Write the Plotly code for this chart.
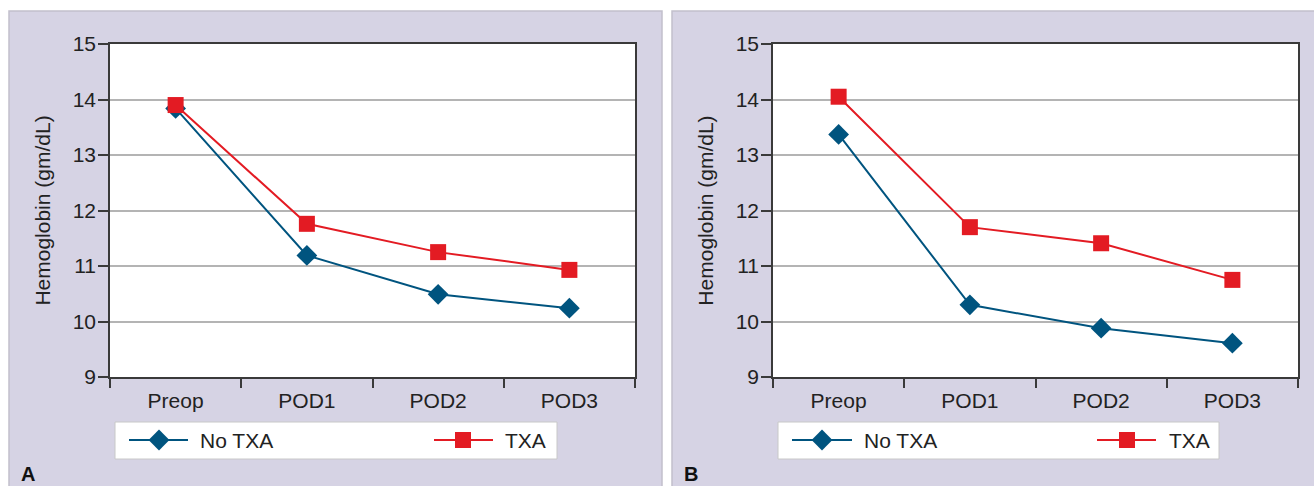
import plotly.graph_objects as go

# ---- data ----
categories = ["Preop", "POD1", "POD2", "POD3"]
a_no_txa = [13.84, 11.19, 10.49, 10.24]
a_txa = [13.90, 11.76, 11.25, 10.93]
b_no_txa = [13.37, 10.30, 9.88, 9.61]
b_txa = [14.05, 11.70, 11.41, 10.75]
y_tick_values = [9, 10, 11, 12, 13, 14, 15]
series_names = ["No TXA", "TXA"]
panel_labels = ["A", "B"]
y_title = "Hemoglobin (gm/dL)"

# ---- style ----
W, H = 1314, 486
BLUE = "#00547f"
RED = "#e31b23"
LAV = "#d6d3e4"
AXIS = "#3a3a3a"
GRID = "#b4b4b4"
TXT = "#222222"
FONT = "Liberation Sans, Arial, sans-serif"


def px(x):
    return x / W


def py(y):
    return 1 - y / H


fig = go.Figure()

panels = [
    dict(x0=110, x1=635, data=(a_no_txa, a_txa), xa="x", ya="y",
         box=(9, 662), leg=(115, 557), g1=(129, 188, 159, 198), g2=(434, 493, 463, 503), lab=28),
    dict(x0=773, x1=1298, data=(b_no_txa, b_txa), xa="x2", ya="y2",
         box=(672, 1316), leg=(778, 1219), g1=(792, 852, 822, 862), g2=(1097, 1156, 1127, 1167), lab=691),
]
PY0, PY1 = 44, 377
LEGY0, LEGY1, LEGY = 422, 459, 440

shapes = []
annotations = []
for i, p in enumerate(panels):
    no_txa, txa = p["data"]
    fig.add_trace(go.Scatter(x=categories, y=no_txa, name=series_names[0], mode="lines+markers",
                             line=dict(color=BLUE, width=2),
                             marker=dict(symbol="diamond", size=16, color=BLUE),
                             xaxis=p["xa"], yaxis=p["ya"], showlegend=False))
    fig.add_trace(go.Scatter(x=categories, y=txa, name=series_names[1], mode="lines+markers",
                             line=dict(color=RED, width=2),
                             marker=dict(symbol="square", size=16, color=RED),
                             xaxis=p["xa"], yaxis=p["ya"], showlegend=False))
    # panel background
    shapes.append(dict(type="rect", xref="paper", yref="paper", layer="below",
                       x0=px(p["box"][0]), x1=px(p["box"][1]), y0=-0.02, y1=py(11),
                       fillcolor=LAV, line=dict(color="#c2c0cc", width=1.5)))
    shapes.append(dict(type="rect", xref="paper", yref="paper", layer="below",
                       x0=px(p["x0"]), x1=px(p["x1"]), y0=py(PY1), y1=py(PY0),
                       fillcolor="white", line=dict(width=0)))
    # legend box
    shapes.append(dict(type="rect", xref="paper", yref="paper", layer="below",
                       x0=px(p["leg"][0]), x1=px(p["leg"][1]), y0=py(LEGY1), y1=py(LEGY0),
                       fillcolor="white", line=dict(color="#c8c8c8", width=1)))
    # legend glyphs
    for g, col, sym, nm in [(p["g1"], BLUE, "diamond", series_names[0]),
                            (p["g2"], RED, "square", series_names[1])]:
        fig.add_trace(go.Scatter(x=[g[0], g[1]], y=[LEGY, LEGY], mode="lines",
                                 line=dict(color=col, width=2), xaxis="x3", yaxis="y3",
                                 showlegend=False, hoverinfo="skip"))
        fig.add_trace(go.Scatter(x=[g[2]], y=[LEGY], mode="markers",
                                 marker=dict(symbol=sym, size=16, color=col), xaxis="x3", yaxis="y3",
                                 showlegend=False, hoverinfo="skip"))
        annotations.append(dict(x=g[3], y=LEGY, xref="x3", yref="y3", text=nm, showarrow=False,
                                xanchor="left", yanchor="middle", font=dict(size=21, color=TXT, family=FONT)))
    annotations.append(dict(x=p["lab"], y=474, xref="x3", yref="y3", text="<b>%s</b>" % panel_labels[i],
                            showarrow=False, xanchor="center", yanchor="middle",
                            font=dict(size=20, color="#111111", family=FONT)))

xaxis_common = dict(type="category", range=[-0.5, 3.5], tickson="boundaries", ticks="outside",
                    ticklen=9, tickwidth=1.5, tickcolor=AXIS, showline=True, linecolor=AXIS,
                    linewidth=1.5, mirror=True, showgrid=False, zeroline=False, automargin=False,
                    ticklabelstandoff=4,
                    tickfont=dict(size=21, color=TXT, family=FONT), fixedrange=True)
yaxis_common = dict(range=[9, 15], tickvals=y_tick_values, ticks="outside", ticklen=10, tickwidth=1.5,
                    tickcolor=AXIS, showline=True, linecolor=AXIS, linewidth=1.5, mirror=True,
                    showgrid=True, gridcolor=GRID, gridwidth=1.5, zeroline=False, automargin=False,
                    ticklabelstandoff=-2,
                    tickfont=dict(size=21, color=TXT, family=FONT), fixedrange=True,
                    title=dict(text=y_title, standoff=16, font=dict(size=21, color=TXT, family=FONT)))

fig.update_layout(
    width=W, height=H, margin=dict(l=0, r=0, t=0, b=0, pad=0), autosize=False,
    paper_bgcolor="white", plot_bgcolor="rgba(0,0,0,0)",
    font=dict(family=FONT, color=TXT),
    xaxis=dict(domain=[px(110), px(635)], anchor="y", **xaxis_common),
    yaxis=dict(domain=[py(PY1), py(PY0)], anchor="x", **yaxis_common),
    xaxis2=dict(domain=[px(773), px(1298)], anchor="y2", **xaxis_common),
    yaxis2=dict(domain=[py(PY1), py(PY0)], anchor="x2", **yaxis_common),
    xaxis3=dict(domain=[0, 1], range=[0, W], anchor="y3", visible=False, fixedrange=True, automargin=False),
    yaxis3=dict(domain=[0, 1], range=[H, 0], anchor="x3", visible=False, fixedrange=True, automargin=False),
    shapes=shapes, annotations=annotations, showlegend=False,
)

fig.write_html("out.html", config={"displayModeBar": False},
               post_script="document.body.style.margin='0';document.body.style.padding='0';")
